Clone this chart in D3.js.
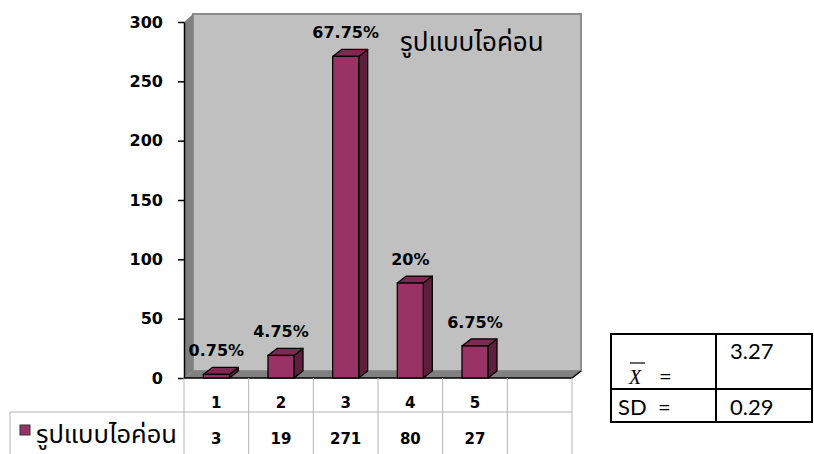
<!DOCTYPE html>
<html>
<head>
<meta charset="utf-8">
<script src="https://cdn.jsdelivr.net/npm/d3@7/dist/d3.min.js"></script>
<style>
  html, body { margin: 0; padding: 0; background: #fff; }
  svg { display: block; }
</style>
</head>
<body>
<svg id="chart" width="814" height="454"></svg>
<script>
// Survey results: number of respondents choosing each rating (1–5) for the icon design
const categories = ["1", "2", "3", "4", "5"];
const counts = [3, 19, 271, 80, 27];
const percentLabels = ["0.75%", "4.75%", "67.75%", "20%", "6.75%"];
const yTicks = [0, 50, 100, 150, 200, 250, 300];
const seriesName = "รูปแบบไอค่อน";
const meanValue = "3.27";
const sdValue = "0.29";

const svg = d3.select("#chart");
const W = 814, H = 454;

const thaiFont = "Tahoma, 'Noto Sans Thai', 'Noto Sans Thai UI', 'Noto Sans', sans-serif";
const boldFont = "'DejaVu Sans', Verdana, sans-serif";
const statFont = "Lato, 'Open Sans', sans-serif";

// plot frame
const plotL = 184, plotR = 572, plotT = 22, plotB = 378;
const dx = 9, dy = 7; // 3-D depth offset

const x = d3.scaleBand()
  .domain([...categories, ""])   // trailing empty slot
  .range([plotL, plotR])
  .paddingInner(0).paddingOuter(0);

const y = d3.scaleLinear().domain([0, 300]).range([plotB, plotT]);

svg.append("rect").attr("width", W).attr("height", H).attr("fill", "#fff");

// back wall
svg.append("rect")
  .attr("x", plotL + dx).attr("y", plotT - dy - 1)
  .attr("width", plotR - plotL).attr("height", plotB - plotT + 1)
  .attr("fill", "#c0c0c0").attr("stroke", "#8c8c8c").attr("stroke-width", 2);

// left side wall
svg.append("path")
  .attr("d", `M${plotL},${plotB} L${plotL},${plotT} L${plotL + dx},${plotT - dy - 1} L${plotL + dx},${plotB - dy} Z`)
  .attr("fill", "#808080");

// floor
svg.append("path")
  .attr("d", `M${plotL},${plotB} L${plotR},${plotB} L${plotR + dx},${plotB - dy} L${plotL + dx},${plotB - dy} Z`)
  .attr("fill", "#808080");

// floor front edge
svg.append("path")
  .attr("d", `M${plotL},${plotB} L${plotR},${plotB} L${plotR + dx},${plotB - dy}`)
  .attr("fill", "none").attr("stroke", "#000").attr("stroke-width", 1.5);

// y axis
const yAxis = svg.append("g")
  .attr("transform", `translate(${plotL},0)`)
  .call(d3.axisLeft(y).tickValues(yTicks).tickSize(6).tickPadding(15).tickSizeOuter(0));
yAxis.select(".domain").attr("stroke", "#000").attr("stroke-width", 1.5);
yAxis.selectAll(".tick line").attr("stroke", "#000").attr("stroke-width", 1.5);
yAxis.selectAll(".tick text")
  .attr("font-family", boldFont).attr("font-weight", "bold")
  .attr("font-size", 16).attr("fill", "#000");

// bars
const barW = 26;
const bars = svg.append("g");
categories.forEach((c, i) => {
  const v = counts[i];
  const cx = x(c) + x.bandwidth() / 2;
  const x0 = cx - barW / 2, x1 = cx + barW / 2;
  const yt = y(v), yb = y(0);
  const g = bars.append("g");
  // side face
  g.append("path")
    .attr("d", `M${x1},${yb} L${x1},${yt} L${x1 + dx},${yt - dy} L${x1 + dx},${yb - dy} Z`)
    .attr("fill", "#5e1f3f").attr("stroke", "#000").attr("stroke-width", 1.3).attr("stroke-linejoin", "round");
  // top face
  g.append("path")
    .attr("d", `M${x0},${yt} L${x1},${yt} L${x1 + dx},${yt - dy} L${x0 + dx},${yt - dy} Z`)
    .attr("fill", "#7d2952").attr("stroke", "#000").attr("stroke-width", 1.3).attr("stroke-linejoin", "round");
  // front face
  g.append("rect")
    .attr("x", x0).attr("y", yt).attr("width", barW).attr("height", yb - yt)
    .attr("fill", "#993366").attr("stroke", "#000").attr("stroke-width", 1.3);
  // percentage label
  g.append("text")
    .attr("x", cx).attr("y", yt - dy - 11)
    .attr("text-anchor", "middle")
    .attr("font-family", boldFont).attr("font-weight", "bold")
    .attr("font-size", 16).attr("fill", "#000")
    .text(percentLabels[i]);
});

// series title inside the plot
svg.append("text")
  .attr("x", 400).attr("y", 51)
  .attr("font-family", thaiFont).attr("font-size", 26).attr("fill", "#000")
  .text(seriesName);

// data table under the axis
const grid = svg.append("g").attr("stroke", "#b4b4b4").attr("stroke-width", 1);
const rowTop = plotB, rowMid = 412, rowBot = H;
x.domain().forEach(c => {
  grid.append("line").attr("x1", x(c)).attr("x2", x(c)).attr("y1", rowTop).attr("y2", rowBot);
});
grid.append("line").attr("x1", plotR).attr("x2", plotR).attr("y1", rowTop).attr("y2", rowBot);
grid.append("line").attr("x1", 10).attr("x2", plotR).attr("y1", rowMid).attr("y2", rowMid);
grid.append("line").attr("x1", 10).attr("x2", 10).attr("y1", rowMid).attr("y2", rowBot);

categories.forEach((c, i) => {
  const cx = x(c) + x.bandwidth() / 2;
  svg.append("text")
    .attr("x", cx).attr("y", 408).attr("text-anchor", "middle")
    .attr("font-family", boldFont).attr("font-weight", "bold").attr("font-size", 15)
    .text(c);
  svg.append("text")
    .attr("x", cx).attr("y", 444).attr("text-anchor", "middle")
    .attr("font-family", boldFont).attr("font-weight", "bold").attr("font-size", 15)
    .text(counts[i]);
});

// legend key in the table
svg.append("rect")
  .attr("x", 20).attr("y", 425).attr("width", 10).attr("height", 10)
  .attr("fill", "#993366").attr("stroke", "#333").attr("stroke-width", 1);
svg.append("text")
  .attr("x", 36).attr("y", 443)
  .attr("font-family", thaiFont).attr("font-size", 25.5).attr("fill", "#000")
  .text(seriesName);

// summary statistics box
const sx0 = 611, sx1 = 812, sxm = 716, sy0 = 334, sym = 389, sy1 = 422;
const stats = svg.append("g").attr("stroke", "#000").attr("stroke-width", 2).attr("fill", "none");
stats.append("rect").attr("x", sx0).attr("y", sy0).attr("width", sx1 - sx0).attr("height", sy1 - sy0);
stats.append("line").attr("x1", sxm).attr("x2", sxm).attr("y1", sy0).attr("y2", sy1);
stats.append("line").attr("x1", sx0).attr("x2", sx1).attr("y1", sym).attr("y2", sym);

svg.append("text").attr("x", 629).attr("y", 384)
  .attr("font-family", "'Liberation Serif', serif").attr("font-style", "italic").attr("font-size", 20)
  .text("X");
svg.append("line").attr("x1", 630).attr("x2", 645).attr("y1", 363).attr("y2", 363)
  .attr("stroke", "#000").attr("stroke-width", 1.2);
svg.append("text").attr("x", 659).attr("y", 384)
  .attr("font-family", statFont).attr("font-size", 22).text("=");
svg.append("text").attr("x", 730).attr("y", 359)
  .attr("font-family", statFont).attr("font-size", 22).text(meanValue);
svg.append("text").attr("x", 618).attr("y", 415)
  .attr("font-family", statFont).attr("font-size", 22).attr("xml:space", "preserve").text("SD  =");
svg.append("text").attr("x", 730).attr("y", 415)
  .attr("font-family", statFont).attr("font-size", 22).text(sdValue);
</script>
</body>
</html>
